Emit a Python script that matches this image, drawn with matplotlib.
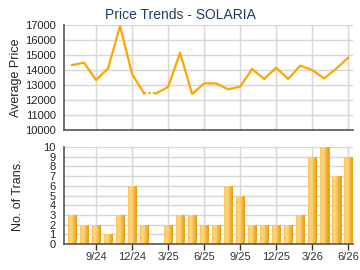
import numpy as np
import matplotlib.pyplot as plt
from matplotlib.colors import LinearSegmentedColormap

# 월별 데이터 (7/24 ~ 6/26)
months = ['7/24', '8/24', '9/24', '10/24', '11/24', '12/24', '1/25', '2/25',
          '3/25', '4/25', '5/25', '6/25', '7/25', '8/25', '9/25', '10/25',
          '11/25', '12/25', '1/26', '2/26', '3/26', '4/26', '5/26', '6/26']
avg_price = [14330, 14490, 13330, 14110, 16930, 13730, 12440, 12440,
             12870, 15150, 12400, 13110, 13110, 12710, 12890, 14070,
             13400, 14150, 13400, 14290, 14000, 13440, 14090, 14820]
num_trans = [3, 2, 2, 1, 3, 6, 2, 0, 2, 3, 3, 2, 2, 6, 5, 2, 2, 2, 2, 3, 9, 10, 7, 9]
tick_labels = ['9/24', '12/24', '3/25', '6/25', '9/25', '12/25', '3/26', '6/26']

plt.rcParams['font.family'] = ['Liberation Sans', 'DejaVu Sans']


def style_axes(ax):
    for s in ['top', 'right']:
        ax.spines[s].set_visible(False)
    for s in ['left', 'bottom']:
        ax.spines[s].set_color('#555555')
        ax.spines[s].set_linewidth(1.2)
    ax.grid(True, color='#d6d6d6', linewidth=1.0)
    ax.set_axisbelow(True)
    ax.tick_params(axis='y', length=0, pad=6, labelsize=8, colors='#222222')


def main():
    x = np.arange(len(months))
    tick_pos = [months.index(t) for t in tick_labels]

    fig = plt.figure(figsize=(3.6, 2.7), dpi=100)

    # 가격 추이 그래프 (1/25~2/25 구간은 점선)
    ax1 = fig.add_axes([64 / 360, 1 - 130 / 270, 289 / 360, 105 / 270])
    style_axes(ax1)
    p = np.array(avg_price, dtype=float)
    solid1 = p.copy(); solid1[7:] = np.nan
    dotted = p.copy(); dotted[:6] = np.nan; dotted[8:] = np.nan
    solid2 = p.copy(); solid2[:7] = np.nan
    ax1.plot(x, solid1, color='#ffa500', linewidth=1.6)
    ax1.plot(x, dotted, color='#ffa500', linewidth=1.6, linestyle=(0, (1, 1)))
    ax1.plot(x, solid2, color='#ffa500', linewidth=1.6)
    ax1.set_xlim(-0.67, 23.4)
    ax1.set_ylim(10000, 17000)
    ax1.set_yticks(range(10000, 17001, 1000))
    ax1.set_xticks(tick_pos)
    ax1.tick_params(axis='x', length=0, labelbottom=False)
    ax1.set_ylabel('Average Price', fontsize=9, color='#222222', labelpad=2)
    fig.text(0.5, 1 - 15 / 270, 'Price Trends - SOLARIA', ha='center', va='center',
             fontsize=10, color='#1f3d60')

    # 거래 건수 막대그래프
    ax2 = fig.add_axes([64 / 360, 1 - 244 / 270, 289 / 360, 97 / 270])
    style_axes(ax2)
    bars = ax2.bar(x, num_trans, width=0.72, color='#f7bd45', edgecolor='#eba420',
                   linewidth=0.6, zorder=2)
    grad = np.linspace(0, 1, 64).reshape(1, -1)
    cmap = LinearSegmentedColormap.from_list(
        'bar', ['#f9c24f', '#fdd883', '#fbcd66', '#f2b038', '#e89c10'])
    for b in bars:
        if b.get_height() <= 0:
            continue
        im = ax2.imshow(grad, cmap=cmap, aspect='auto', zorder=2.5,
                        extent=[b.get_x(), b.get_x() + b.get_width(), 0, b.get_height()])
        im.set_clip_path(b)
    ax2.set_xlim(-0.67, 23.4)
    ax2.set_ylim(0, 10)
    ax2.set_yticks(range(0, 11))
    ax2.set_xticks(tick_pos)
    ax2.set_xticklabels(tick_labels)
    ax2.tick_params(axis='x', length=4, width=1, colors='#333333', labelsize=8, pad=2)
    ax2.set_ylabel('No. of Trans.', fontsize=9, color='#222222', labelpad=14)

    fig.savefig('out.png', dpi=100)


if __name__ == '__main__':
    main()
